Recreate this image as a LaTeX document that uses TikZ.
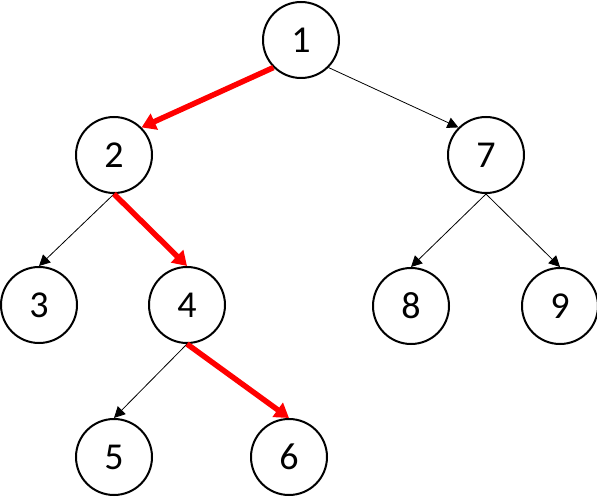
\documentclass[tikz,border=0pt]{standalone}
\usepackage{fontspec}
\setmainfont{Carlito}
\usetikzlibrary{arrows.meta}
\begin{document}
\begin{tikzpicture}[x=1pt,y=-1pt,
  tnode/.style={circle,draw=black,line width=2pt,minimum size=76pt,inner sep=0pt,font=\fontsize{38}{42}\selectfont},
  thin edge/.style={draw=black,line width=0.8pt,-{Triangle[length=11pt,width=11pt]}},
  red edge/.style={draw=red,line width=5.5pt,-{Triangle[length=14pt,width=17pt]}}]
\useasboundingbox (0,0) rectangle (597,502);
\node[tnode] (n1) at (301,40) {1};
\node[tnode] (n2) at (114,155) {2};
\node[tnode] (n7) at (486,155) {7};
\node[tnode] (n3) at (39,305) {3};
\node[tnode] (n4) at (187,305) {4};
\node[tnode] (n8) at (411,306) {8};
\node[tnode] (n9) at (560,306) {9};
\node[tnode] (n5) at (114,457) {5};
\node[tnode] (n6) at (289,457) {6};
\draw[red edge] (n1.225) -- (n2.45);
\draw[thin edge] (n1.315) -- (n7.135);
\draw[thin edge] (n2.south) -- (n3.north);
\draw[red edge] (n2.south) -- (n4.north);
\draw[thin edge] (n7.south) -- (n8.north);
\draw[thin edge] (n7.south) -- (n9.north);
\draw[thin edge] (n4.south) -- (n5.north);
\draw[red edge] (n4.south) -- (n6.north);
\end{tikzpicture}
\end{document}
